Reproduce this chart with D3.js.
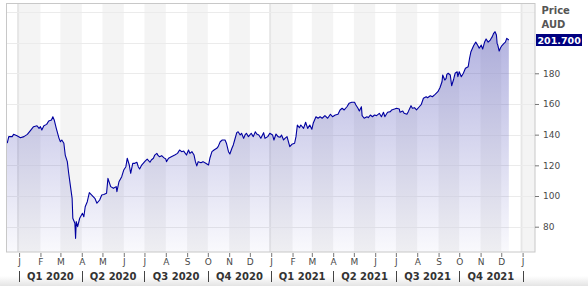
<!DOCTYPE html>
<html><head><meta charset="utf-8">
<script src="https://cdn.jsdelivr.net/npm/d3@7/dist/d3.min.js"></script>
<style>html,body{margin:0;padding:0;background:#fff;}svg{display:block;font-family:"DejaVu Sans",sans-serif;}</style>
</head><body>
<svg id="chart" width="588" height="286"></svg>
<script>
const dates = [
"2019-12-13","2019-12-15","2019-12-17","2019-12-22","2019-12-24","2019-12-29",
"2020-01-03","2020-01-08","2020-01-13","2020-01-18","2020-01-22","2020-01-27","2020-01-30",
"2020-02-01","2020-02-03","2020-02-06","2020-02-10","2020-02-13","2020-02-17","2020-02-19","2020-02-21","2020-02-24","2020-02-28",
"2020-03-01","2020-03-03","2020-03-06","2020-03-08","2020-03-11","2020-03-13","2020-03-16","2020-03-18","2020-03-19","2020-03-22","2020-03-23","2020-03-24","2020-03-26","2020-03-29",
"2020-04-02","2020-04-04","2020-04-06","2020-04-09","2020-04-12","2020-04-20","2020-04-23","2020-04-27","2020-04-30",
"2020-05-03","2020-05-07","2020-05-09","2020-05-13","2020-05-17","2020-05-21","2020-05-22","2020-05-25","2020-05-29",
"2020-06-01","2020-06-04","2020-06-06","2020-06-09","2020-06-11","2020-06-14","2020-06-17","2020-06-20","2020-06-22","2020-06-24","2020-06-27",
"2020-07-02","2020-07-05","2020-07-09","2020-07-11","2020-07-14","2020-07-16","2020-07-19","2020-07-21","2020-07-23","2020-07-26","2020-07-29",
"2020-08-01","2020-08-02","2020-08-05","2020-08-09","2020-08-14","2020-08-18","2020-08-21","2020-08-24","2020-08-27","2020-08-31",
"2020-09-03","2020-09-05","2020-09-08","2020-09-11","2020-09-13","2020-09-15","2020-09-17","2020-09-21","2020-09-24","2020-09-28",
"2020-10-02","2020-10-04","2020-10-07","2020-10-10","2020-10-14","2020-10-16","2020-10-19","2020-10-22","2020-10-26","2020-10-28","2020-10-31",
"2020-11-02","2020-11-05","2020-11-07","2020-11-09","2020-11-12","2020-11-14","2020-11-17","2020-11-19","2020-11-22","2020-11-24","2020-11-26","2020-11-29",
"2020-12-03","2020-12-06","2020-12-09","2020-12-11","2020-12-14","2020-12-17","2020-12-21","2020-12-23","2020-12-27","2020-12-30",
"2021-01-03","2021-01-05","2021-01-08","2021-01-11","2021-01-14","2021-01-16","2021-01-19","2021-01-21","2021-01-24","2021-01-26","2021-01-28","2021-01-31",
"2021-02-04","2021-02-06","2021-02-08","2021-02-11","2021-02-13","2021-02-17","2021-02-20","2021-02-23","2021-02-26",
"2021-03-01","2021-03-03","2021-03-07","2021-03-10","2021-03-13","2021-03-16","2021-03-20","2021-03-24","2021-03-28","2021-03-31",
"2021-04-04","2021-04-08","2021-04-11","2021-04-14","2021-04-17","2021-04-21","2021-04-24","2021-04-28",
"2021-05-02","2021-05-04","2021-05-07","2021-05-09","2021-05-12","2021-05-13","2021-05-16","2021-05-20","2021-05-22","2021-05-25","2021-05-28","2021-05-31",
"2021-06-03","2021-06-07","2021-06-10","2021-06-13","2021-06-15","2021-06-19","2021-06-23","2021-06-25","2021-06-29",
"2021-07-02","2021-07-06","2021-07-07","2021-07-11","2021-07-13","2021-07-17","2021-07-19","2021-07-23","2021-07-25","2021-07-28","2021-07-31",
"2021-08-04","2021-08-07","2021-08-10","2021-08-14","2021-08-16","2021-08-20","2021-08-23","2021-08-27","2021-08-31",
"2021-09-03","2021-09-06","2021-09-07","2021-09-10","2021-09-12","2021-09-13","2021-09-15","2021-09-18","2021-09-20","2021-09-23","2021-09-25","2021-09-28","2021-09-29",
"2021-10-01","2021-10-04","2021-10-07","2021-10-10","2021-10-14","2021-10-16","2021-10-18","2021-10-22","2021-10-25","2021-10-28","2021-10-30",
"2021-11-02","2021-11-04","2021-11-07","2021-11-09","2021-11-12","2021-11-15","2021-11-18","2021-11-20","2021-11-22","2021-11-24","2021-11-25","2021-11-26","2021-11-28","2021-11-30",
"2021-12-02","2021-12-05","2021-12-07","2021-12-09","2021-12-12"
];
const prices = [
135.8,134.8,138.7,138.7,140.2,139.3,
138,138.7,140.2,143,145.2,145.8,144.1,
145.2,143,145.8,146.7,148.9,149.6,151.7,149.6,144.1,137.6,
135.4,136.5,134.4,126.7,122.4,114.8,105,98.5,85.5,82.2,72.4,83.3,80,85.5,
88.7,86.5,93,96.3,102.2,98.5,95.3,97.4,100.7,
101,101.8,111.5,106.1,105,106.1,102.8,109.3,112.6,
117,119.1,124.6,120.2,114.8,121.3,121.3,122,119.1,117.6,120.2,
122.8,124.1,122,123.5,124.6,126.7,127.8,126.3,125.6,126.3,125,
124.1,122.4,124.6,125.6,126.7,127.8,130,128.9,129.3,126.7,
130,127.8,128.9,126.7,122.4,119.6,122.4,121.7,122.4,121.3,
120.2,124.6,128.9,130,131.1,132.2,135.4,136.5,136.5,134.4,128.9,
127.4,131.1,133.3,136.5,141.3,141.9,139.8,140.9,137.6,139.8,140.9,138.7,
140.9,138.7,141.9,140.4,139.8,137.6,141.3,137.6,138.7,140.9,
139.8,136.5,140.4,138.7,138.3,139.8,136.5,137.6,138.7,135.4,132.2,133.7,
134.4,138.7,146.3,144.5,146.3,144.1,148.1,144.1,146.3,
143.5,147.4,151.7,150.7,151.7,150.7,152.4,150.7,153.3,151.7,
152.8,153.3,156.1,157.2,156.1,158.2,160.4,161.1,
161.1,159.3,157.2,155.4,158.2,152.4,150.7,151.7,151.1,152.8,151.7,152.8,
152.4,153.9,151.7,154.6,151.7,154.6,155,156.1,156.7,
157.2,156.7,154.6,155.4,153.9,153.3,155,158.9,157.2,157.6,156.1,
158.2,159.8,163.7,164.7,164.1,165.4,164.7,166.3,168,
170.6,174.5,178.9,175.6,176.7,179.3,180,178.9,171.9,176.3,180,181,177.8,
181,177.8,180,183.3,184.3,189.8,194.1,198.1,200.3,198.1,196.3,
198.4,195.8,200.6,202.4,200.3,201.7,203.9,206.1,207.1,205,199.5,198.4,194.5,196.7,
198.1,199.5,200.3,202.8,201.7
];
const monthLetters = ["J","F","M","A","M","J","J","A","S","O","N","D"];
const quarterLabels = ["Q1 2020","Q2 2020","Q3 2020","Q4 2020","Q1 2021","Q2 2021","Q3 2021","Q4 2021"];
const yTicks = [80,100,120,140,160,180];
const gridValues = [80,100,120,140,160,180,200,220];
const axisTitle = ["Price","AUD"];
const lastLabel = "201.700";

const parse = d3.timeParse("%Y-%m-%d");
const data = dates.map((d,i)=>({date:parse(d), value:prices[i]}));

const L=6, R=535, T=3.5, B=252;
const x = d3.scaleTime().domain([parse("2019-12-13"), parse("2022-01-19")]).range([L,R]);
const y = d3.scaleLinear().domain([63.5,225.5]).range([B,T]);

const svg = d3.select("#chart");
const defs = svg.append("defs");
const grad = defs.append("linearGradient").attr("id","fillGrad")
  .attr("gradientUnits","userSpaceOnUse").attr("x1",0).attr("x2",0).attr("y1",y(210)).attr("y2",B);
grad.append("stop").attr("offset","0%").attr("stop-color","#4646b4").attr("stop-opacity",0.42);
grad.append("stop").attr("offset","100%").attr("stop-color","#4646b4").attr("stop-opacity",0.03);
defs.append("clipPath").attr("id","clip").append("rect").attr("x",L).attr("y",T).attr("width",R-L).attr("height",B-T);

const bg = defs.append("linearGradient").attr("id","bottomGrad").attr("x1",0).attr("x2",0).attr("y1",0).attr("y2",1);
bg.append("stop").attr("offset","0%").attr("stop-color","#ffffff");
bg.append("stop").attr("offset","100%").attr("stop-color","#e4e4e4");
svg.append("rect").attr("x",0).attr("y",276).attr("width",588).attr("height",10).attr("fill","url(#bottomGrad)");

const plot = svg.append("g").attr("clip-path","url(#clip)");
plot.append("rect").attr("x",L).attr("y",T).attr("width",R-L).attr("height",B-T).attr("fill","#fff");

// month column shading
const months = d3.timeMonth.range(parse("2019-12-01"), parse("2022-02-01"));
plot.selectAll("rect.mcol").data(months.filter(m=>m.getMonth()%2===0)).enter().append("rect")
  .attr("class","mcol")
  .attr("x",d=>x(d)).attr("width",d=>x(d3.timeMonth.offset(d,1))-x(d))
  .attr("y",T).attr("height",B-T).attr("fill","#f4f4f4");
// year lines
const years = [parse("2020-01-01"),parse("2021-01-01"),parse("2022-01-01")];
plot.selectAll("line.yr").data(years).enter().append("line")
  .attr("x1",d=>x(d)-1).attr("x2",d=>x(d)-1).attr("y1",T).attr("y2",B)
  .attr("stroke","#e6e6e6").attr("stroke-width",2);
// horizontal grid
plot.selectAll("line.hg").data(gridValues).enter().append("line")
  .attr("x1",L).attr("x2",R).attr("y1",d=>Math.round(y(d))+0.5).attr("y2",d=>Math.round(y(d))+0.5)
  .attr("stroke","#ebebeb").attr("stroke-width",1);

const area = d3.area().x(d=>x(d.date)).y0(B).y1(d=>y(d.value));
plot.append("path").datum(data).attr("d",area).attr("fill","url(#fillGrad)");
const line = d3.line().x(d=>x(d.date)).y(d=>y(d.value));
plot.append("path").datum(data).attr("d",line).attr("fill","none").attr("stroke","#0000a0").attr("stroke-width",1.1).attr("stroke-linejoin","round");

svg.append("rect").attr("x",L+0.5).attr("y",T).attr("width",R-L-0.5).attr("height",B-T).attr("fill","none").attr("stroke","#c8c8c8").attr("stroke-width",1);

// x axis months
const tickMonths = d3.timeMonth.range(parse("2020-01-01"), parse("2022-01-02"));
const xAxis = d3.axisBottom(x).tickValues(tickMonths).tickSize(4).tickSizeOuter(0)
  .tickFormat(d=>monthLetters[d.getMonth()]);
const gx = svg.append("g").attr("transform",`translate(0,${B+1})`).call(xAxis);
gx.select(".domain").remove();
gx.selectAll(".tick line").attr("stroke","#777");
gx.selectAll(".tick text").attr("y",6).attr("fill","#4a4a4a").style("font-size","9px").style("font-family","DejaVu Sans");

// quarter row
const qStarts = d3.timeMonth.every(3).range(parse("2020-01-01"), parse("2022-01-02"));
svg.selectAll("line.qsep").data(qStarts).enter().append("line")
  .attr("x1",d=>Math.round(x(d))+0.5).attr("x2",d=>Math.round(x(d))+0.5).attr("y1",271).attr("y2",282)
  .attr("stroke","#444").attr("stroke-width",1);
svg.selectAll("text.q").data(quarterLabels).enter().append("text")
  .attr("x",(d,i)=>(x(qStarts[i])+x(qStarts[i+1]))/2).attr("y",279.5)
  .attr("text-anchor","middle").attr("fill","#333").style("font-size","10px").style("font-weight","bold").text(d=>d);

// y axis
const yAxis = d3.axisRight(y).tickValues(yTicks).tickSize(4).tickFormat(d3.format("d"));
const gy = svg.append("g").attr("transform",`translate(${R},0)`).call(yAxis);
gy.select(".domain").remove();
gy.selectAll(".tick line").attr("stroke","#777");
gy.selectAll(".tick text").attr("x",8).attr("fill","#4a4a4a").style("font-size","9px").style("font-family","DejaVu Sans");

svg.selectAll("text.title").data(axisTitle).enter().append("text")
  .attr("x",541.5).attr("y",(d,i)=>14+i*14.3).attr("fill","#555")
  .style("font-size","10px").style("font-weight","bold").text(d=>d);

const last = data[data.length-1];
const ly = y(last.value);
svg.append("rect").attr("x",536).attr("y",ly-6).attr("width",46).attr("height",12).attr("fill","#000080");
svg.append("text").attr("x",537.5).attr("y",ly+4).attr("fill","#fff").style("font-size","9.5px").style("font-weight","bold").text(lastLabel);
</script>
</body></html>
